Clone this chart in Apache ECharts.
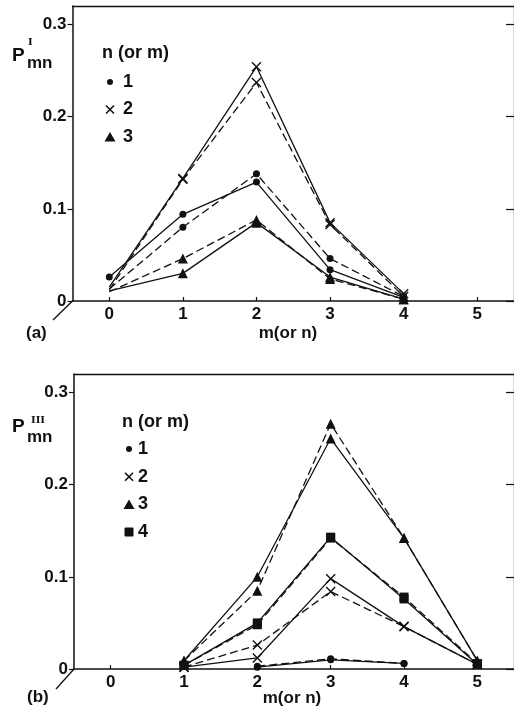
<!DOCTYPE html>
<html><head><meta charset="utf-8">
<script src="https://cdn.jsdelivr.net/npm/echarts@6/dist/echarts.min.js"></script>
<style>html,body{margin:0;padding:0;background:#fff}#c{width:514px;height:717px}</style>
</head><body><div id="c"></div>
<script>
// ---- data ----
const xTicks = [0, 1, 2, 3, 4, 5];
const yTicks = [0, 0.1, 0.2, 0.3];
const legendLabelsA = ['1', '2', '3'];
const legendLabelsB = ['1', '2', '3', '4'];
// panel (a): m (or n) = 0..4
const xA = [0, 1, 2, 3, 4];
const a1Solid  = [0.026, 0.094, 0.129, 0.034, 0.004];
const a1Dashed = [0.013, 0.080, 0.138, 0.046, 0.005];
const a2Solid  = [0.015, 0.133, 0.254, 0.085, 0.008];
const a2Dashed = [0.012, 0.132, 0.237, 0.083, 0.005];
const a3Solid  = [0.011, 0.030, 0.085, 0.026, 0.002];
const a3Dashed = [0.010, 0.046, 0.088, 0.024, 0.002];
// panel (b): m (or n) = 1..5
const xB = [1, 2, 3, 4, 5];
const b1Solid  = [null, 0.002, 0.010, 0.006, null];
const b1Dashed = [null, 0.003, 0.011, 0.006, null];
const b2Solid  = [0.002, 0.012, 0.098, 0.046, 0.005];
const b2Dashed = [0.002, 0.026, 0.084, 0.046, 0.005];
const b3Solid  = [0.009, 0.100, 0.250, 0.142, 0.009];
const b3Dashed = [0.009, 0.085, 0.266, 0.142, 0.009];
const b4Solid  = [0.004, 0.050, 0.143, 0.076, 0.005];
const b4Dashed = [0.004, 0.048, 0.142, 0.078, 0.006];

// ---- styling ----
const FONT = 'Liberation Sans';
const INK = '#111';
const XPATH = 'path://M0,1L1,0L5,4L9,0L10,1L6,5L10,9L9,10L5,6L1,10L0,9L4,5Z';
const SYM = {
  '1': {symbol: 'circle', size: 7},
  '2': {symbol: XPATH, size: 10},
  '3': {symbol: 'triangle', size: 10},
  '4': {symbol: 'rect', size: 9}
};

function pts(xs, ys, hideFirst) {
  const out = [];
  xs.forEach((x, i) => {
    if (ys[i] === null) return;
    const d = {value: [x, ys[i]]};
    if (hideFirst && i === 0) d.symbolSize = 0;
    out.push(d);
  });
  return out;
}
function ser(name, xs, ys, dashed, gi, hideFirst) {
  return {
    type: 'line', name: name, xAxisIndex: gi * 2, yAxisIndex: gi * 2,
    data: pts(xs, ys, hideFirst), symbol: SYM[name].symbol, symbolSize: SYM[name].size,
    showAllSymbol: true, animation: false, silent: true,
    lineStyle: {color: INK, width: 1.3, type: dashed ? [8, 4] : 'solid'},
    itemStyle: {color: INK, borderWidth: 0}
  };
}

const grids = [
  {left: 72.5, top: 6, width: 444, height: 295},
  {left: 74, top: 374, width: 444, height: 295}
];
const xAxes = [], yAxes = [];
grids.forEach((g, i) => {
  xAxes.push({
    type: 'value', gridIndex: i, min: -0.5, max: 5.5, position: 'bottom',
    axisLine: {show: true, onZero: false, lineStyle: {color: INK, width: 1.5}},
    axisTick: {show: true, inside: true, length: 4, customValues: xTicks, lineStyle: {color: INK, width: 1.2}},
    axisLabel: {show: true, customValues: xTicks, margin: 5, color: INK, fontFamily: FONT, fontWeight: 'bold', fontSize: 17},
    splitLine: {show: false}
  });
  xAxes.push({
    type: 'value', gridIndex: i, min: -0.5, max: 5.5, position: 'top',
    axisLine: {show: true, onZero: false, lineStyle: {color: INK, width: 1.3}},
    axisTick: {show: false}, axisLabel: {show: false}, splitLine: {show: false}
  });
  yAxes.push({
    type: 'value', gridIndex: i, min: 0, max: 0.32, position: 'left',
    axisLine: {show: true, onZero: false, lineStyle: {color: INK, width: 1.5}},
    axisTick: {show: true, inside: false, length: 5, customValues: yTicks, lineStyle: {color: INK, width: 1.2}},
    axisLabel: {show: true, customValues: yTicks, margin: 6, color: INK, fontFamily: FONT, fontWeight: 'bold', fontSize: 17,
      formatter: v => v === 0 ? '0' : v.toFixed(1)},
    splitLine: {show: false}
  });
  yAxes.push({
    type: 'value', gridIndex: i, min: 0, max: 0.32, position: 'right',
    axisLine: {show: true, onZero: false, lineStyle: {color: INK, width: 1.3}},
    axisTick: {show: true, inside: true, length: 8, customValues: yTicks, lineStyle: {color: INK, width: 1.2}},
    axisLabel: {show: false}, splitLine: {show: false}
  });
});

const series = [
  ser('1', xA, a1Solid, false, 0, false),
  ser('1', xA, a1Dashed, true, 0, true),
  ser('2', xA, a2Solid, false, 0, true),
  ser('2', xA, a2Dashed, true, 0, true),
  ser('3', xA, a3Solid, false, 0, true),
  ser('3', xA, a3Dashed, true, 0, true),
  ser('1', xB, b1Solid, false, 1, false),
  ser('1', xB, b1Dashed, true, 1, false),
  ser('2', xB, b2Solid, false, 1, false),
  ser('2', xB, b2Dashed, true, 1, false),
  ser('3', xB, b3Solid, false, 1, false),
  ser('3', xB, b3Dashed, true, 1, false),
  ser('4', xB, b4Solid, false, 1, false),
  ser('4', xB, b4Dashed, true, 1, false)
];

// ---- text / legend graphics ----
function txt(s, x, y, size, opts) {
  opts = opts || {};
  return {type: 'text', silent: true, style: {text: s, x: x, y: y, fill: INK,
    font: (opts.weight || 'bold') + ' ' + size + 'px ' + (opts.family || FONT),
    align: opts.align || 'left', verticalAlign: 'middle'}};
}
function legendSym(name, cx, cy) {
  if (name === '1') return {type: 'circle', silent: true, shape: {cx: cx, cy: cy, r: 3}, style: {fill: INK}};
  if (name === '2') return {type: 'group', silent: true, children: [
    {type: 'line', shape: {x1: cx - 4, y1: cy - 4, x2: cx + 4, y2: cy + 4}, style: {stroke: INK, lineWidth: 1.6}},
    {type: 'line', shape: {x1: cx + 4, y1: cy - 4, x2: cx - 4, y2: cy + 4}, style: {stroke: INK, lineWidth: 1.6}}]};
  if (name === '3') return {type: 'polygon', silent: true, shape: {points: [[cx, cy - 5], [cx + 5.5, cy + 4.5], [cx - 5.5, cy + 4.5]]}, style: {fill: INK}};
  return {type: 'rect', silent: true, shape: {x: cx - 4.5, y: cy - 4.5, width: 9, height: 9, r: 1}, style: {fill: INK}};
}
const graphics = [];
// panel (a)
graphics.push(txt('n (or m)', 102, 53, 18));
legendLabelsA.forEach((l, i) => {
  const cy = 82 + i * 27.5;
  graphics.push(legendSym(l, 110, cy));
  graphics.push(txt(l, 123, cy, 18));
});
graphics.push(txt('P', 12, 56, 19));
graphics.push(txt('I', 28, 42, 10, {family: 'DejaVu Serif'}));
graphics.push(txt('mn', 27, 63, 17));
graphics.push(txt('(a)', 26, 333, 17));
graphics.push(txt('m(or n)', 288, 333, 17, {align: 'center'}));
graphics.push({type: 'line', silent: true, shape: {x1: 72.5, y1: 301, x2: 53, y2: 320}, style: {stroke: INK, lineWidth: 1.3}});
// panel (b)
graphics.push(txt('n (or m)', 122, 422, 18));
legendLabelsB.forEach((l, i) => {
  const cy = 449 + i * 27.7;
  graphics.push(legendSym(l, 129, cy));
  graphics.push(txt(l, 138, cy, 18));
});
graphics.push(txt('P', 12, 427, 19));
graphics.push(txt('III', 31, 420, 10, {family: 'DejaVu Serif'}));
graphics.push(txt('mn', 27, 437, 17));
graphics.push(txt('(b)', 27, 697, 17));
graphics.push(txt('m(or n)', 292, 698, 17, {align: 'center'}));
graphics.push({type: 'line', silent: true, shape: {x1: 74, y1: 669, x2: 56, y2: 689}, style: {stroke: INK, lineWidth: 1.3}});

const chart = echarts.init(document.getElementById('c'), null, {renderer: 'canvas'});
chart.setOption({
  backgroundColor: '#fff', animation: false,
  grid: grids, xAxis: xAxes, yAxis: yAxes, series: series, graphic: graphics
});
</script></body></html>
